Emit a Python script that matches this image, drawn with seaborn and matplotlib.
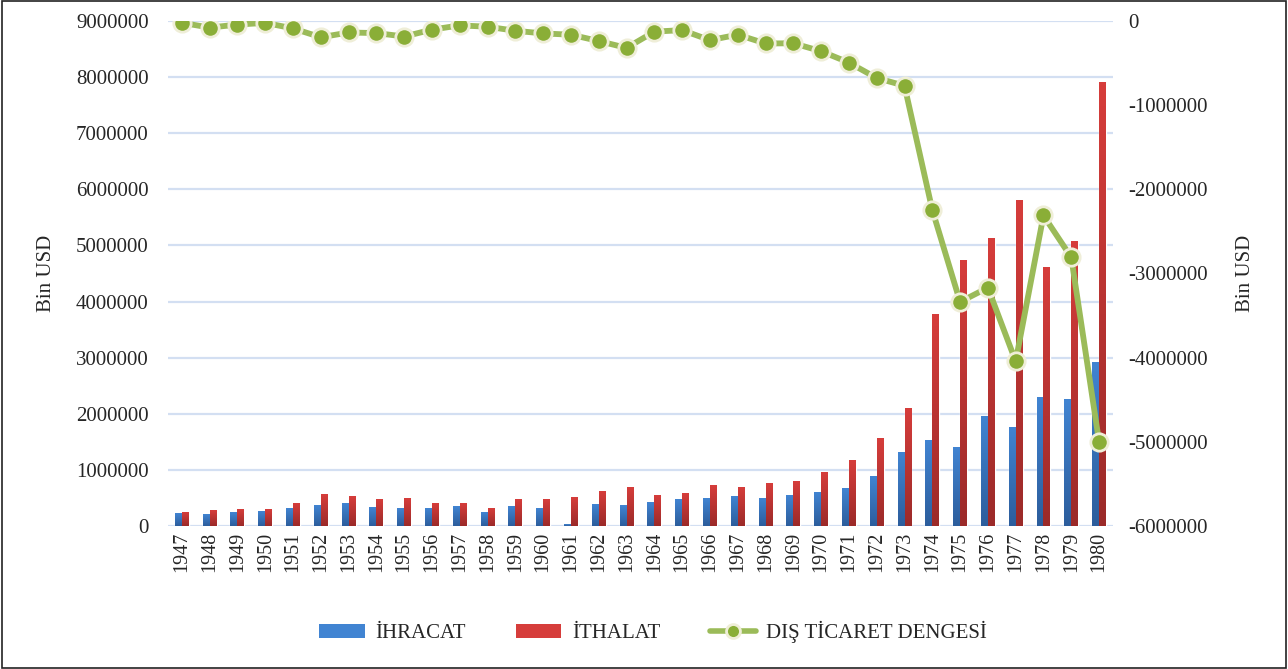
"""Türkiye dış ticareti 1947-1980: ihracat, ithalat (bar) ve dış ticaret dengesi (çizgi)."""
import matplotlib

matplotlib.use("Agg")
import matplotlib.pyplot as plt
import numpy as np
import pandas as pd
import seaborn as sns
from matplotlib.colors import LinearSegmentedColormap
from matplotlib.lines import Line2D
from matplotlib.patches import Patch, Rectangle

# values in thousand USD
years = [str(y) for y in range(1947, 1981)]
ihracat = [223281, 196811, 247826, 263424, 314082, 362914, 396061, 334924,
           313346, 304990, 345217, 247271, 353798, 320731, 34674, 381179,
           368087, 410771, 463738, 490508, 522334, 496419, 536834, 588476,
           676602, 884969, 1317083, 1532182, 1401075, 1960214, 1752974,
           2288163, 2261195, 2910122]
ithalat = [244569, 275052, 290200, 285664, 402086, 555920, 532534, 478359,
           497637, 407340, 397125, 315098, 469961, 468186, 509468, 619418,
           687616, 537219, 571953, 718269, 684669, 763659, 801236, 947604,
           1170840, 1562550, 2086216, 3777501, 4738558, 5128656, 5796278,
           4599025, 5069432, 7909364]
denge = [-21288, -78241, -42374, -22240, -88004, -193006, -136473, -143435,
         -184291, -102350, -51908, -67827, -116163, -147455, -162724, -238239,
         -319529, -126448, -108215, -227761, -162335, -267240, -264402,
         -359128, -494238, -677581, -769133, -2245319, -3337483, -3168442,
         -4043304, -2310862, -2808237, -4999242]
series_names = ["İHRACAT", "İTHALAT", "DIŞ TİCARET DENGESİ"]

BLUE_TOP, BLUE_BOT = "#4184d2", "#2c5d9c"
RED_TOP, RED_BOT = "#d63d3b", "#9b2a29"
GREEN, GREEN_DOT, DOT_EDGE = "#9bbb59", "#8aae37", "#efeed8"
GRID = "#d3dff2"

sns.set_theme(style="white")
plt.rcParams["font.family"] = ["Liberation Serif", "DejaVu Serif"]
plt.rcParams["font.size"] = 15

bars = pd.DataFrame({
    "year": years * 2,
    "value": ihracat + ithalat,
    "series": [series_names[0]] * len(years) + [series_names[1]] * len(years),
})

fig = plt.figure(figsize=(12.88, 6.69), dpi=100)
ax = fig.add_axes([0.1304, 0.2138, 0.7337, 0.7548])

sns.barplot(data=bars, x="year", y="value", hue="series",
            palette=[BLUE_TOP, RED_TOP], width=0.5, legend=False,
            saturation=1, ax=ax)

# vertical gradient on each bar
grad = np.linspace(1, 0, 128).reshape(-1, 1)
cmaps = {BLUE_TOP: LinearSegmentedColormap.from_list("b", [BLUE_BOT, BLUE_TOP]),
         RED_TOP: LinearSegmentedColormap.from_list("r", [RED_BOT, RED_TOP])}
for p in list(ax.patches):
    x0, w, h = p.get_x(), p.get_width(), p.get_height()
    if h <= 0:
        continue
    fc = matplotlib.colors.to_hex(p.get_facecolor())
    cm = cmaps[BLUE_TOP] if fc == BLUE_TOP else cmaps[RED_TOP]
    ax.imshow(grad, cmap=cm, extent=[x0, x0 + w, 0, h], aspect="auto",
              origin="upper", zorder=p.get_zorder() + 0.1)

ax.set_xlim(-0.5, len(years) - 0.5)
ax.set_ylim(0, 9000000)
ax.set_yticks(range(0, 9000001, 1000000))
ax.set_yticklabels([str(v) for v in range(0, 9000001, 1000000)])
ax.yaxis.grid(True, color=GRID, linewidth=1.6)
ax.set_axisbelow(True)
ax.set_xlabel("")
ax.set_ylabel("Bin USD", fontsize=15, labelpad=14)
ax.tick_params(axis="x", rotation=90, labelsize=14.5, length=0, pad=4)
ax.tick_params(axis="y", labelsize=15, length=0, pad=14)
for s in ax.spines.values():
    s.set_visible(False)

ax2 = ax.twinx()
sns.pointplot(x=years, y=denge, ax=ax2, color=GREEN, linewidth=4.2,
              markers="o", markersize=12.5, markerfacecolor=GREEN_DOT,
              markeredgecolor=DOT_EDGE, markeredgewidth=2)
ax2.set_xlim(-0.5, len(years) - 0.5)
ax2.set_ylim(-6000000, 0)
ax2.set_yticks(range(-6000000, 1, 1000000))
ax2.set_yticklabels([str(v) for v in range(-6000000, 1, 1000000)])
ax2.set_ylabel("Bin USD", fontsize=15, labelpad=20)
ax2.tick_params(axis="y", labelsize=15, length=0, pad=11)
ax2.grid(False)
for s in ax2.spines.values():
    s.set_visible(False)

handles = [
    Patch(facecolor=BLUE_TOP, edgecolor="none"),
    Patch(facecolor=RED_TOP, edgecolor="none"),
    Line2D([], [], color=GREEN, linewidth=4, marker="o", markersize=10,
           markerfacecolor=GREEN_DOT, markeredgecolor=DOT_EDGE,
           markeredgewidth=2),
]
fig.legend(handles, series_names, loc="center", bbox_to_anchor=(0.507, 0.055),
           ncol=3, frameon=False, fontsize=15, handlelength=2.2,
           handleheight=0.7, columnspacing=2.4, handletextpad=0.5)

fig.patches.append(Rectangle((0.0015, 0.0015), 0.997, 0.997,
                             transform=fig.transFigure, fill=False,
                             edgecolor="#222222", linewidth=1.2))

fig.savefig("out.png", dpi=100)
